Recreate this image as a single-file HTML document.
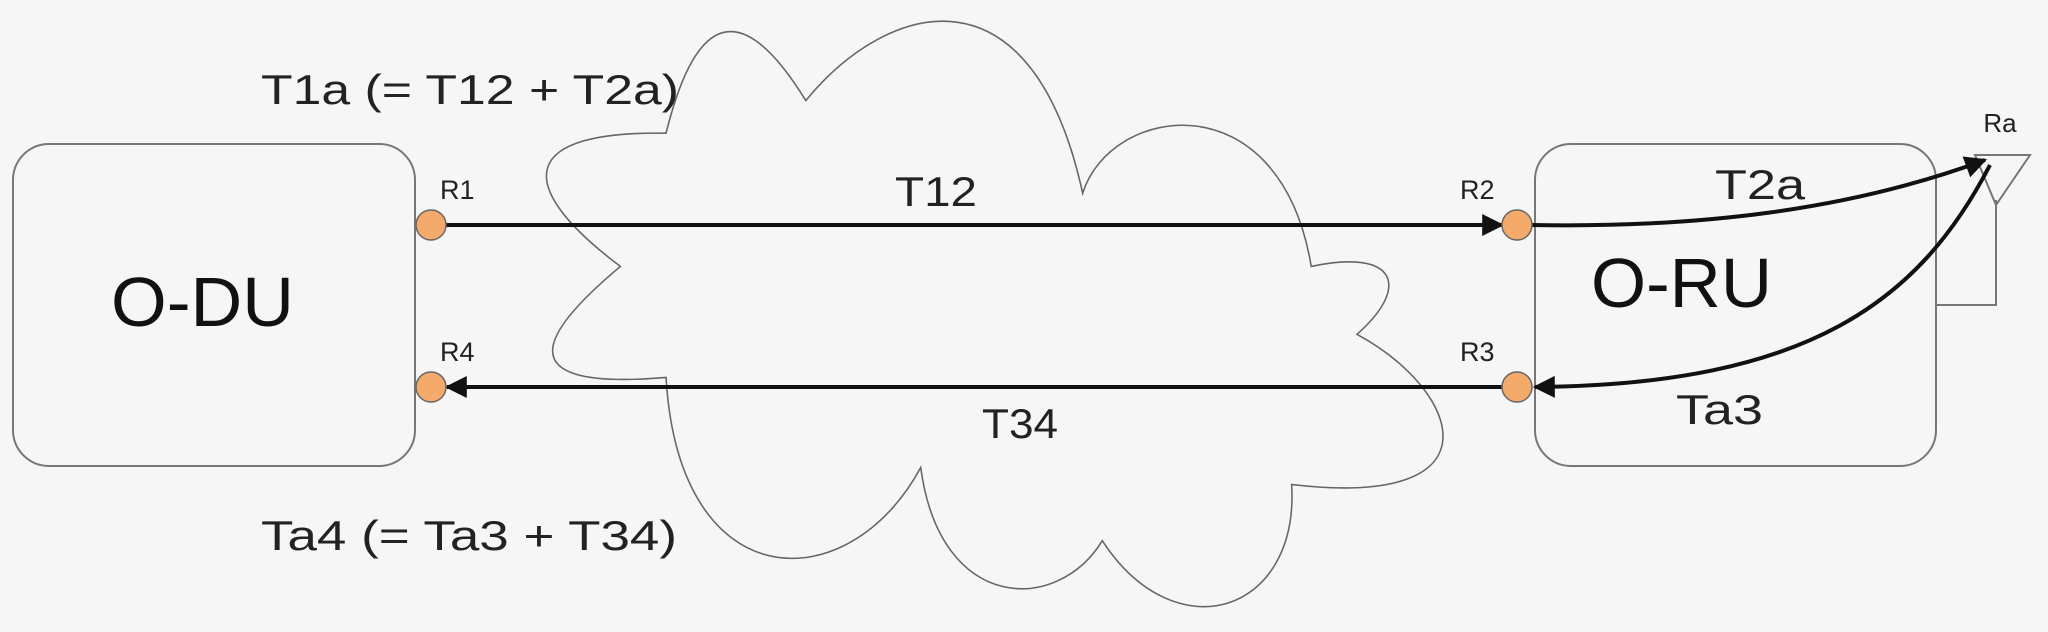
<!DOCTYPE html>
<html><head><meta charset="utf-8"><style>
html,body{margin:0;padding:0;background:#f6f6f6;}
svg{display:block;font-family:"Liberation Sans",Arial,sans-serif;}
</style></head><body>
<svg width="2048" height="632" viewBox="0 0 2048 632">
<defs>
<marker id="ah2" viewBox="0 0 10 10" refX="9" refY="5" markerWidth="30" markerHeight="22" markerUnits="userSpaceOnUse" orient="auto">
<path d="M0,0 L10,5 L0,10 z" fill="#111"/></marker>
</defs>
<rect width="2048" height="632" fill="#f6f6f6"/>
<g transform="scale(1.306)">
<path d="M510,102 Q545,-40 617,77 C680,0 790,-30 829,148 C850,80 980,60 1004,204 C1070,190 1080,220 1039,256 C1120,300 1150,390 989,371 C995,470 900,500 844,414 C810,470 720,470 705,358 C650,460 520,460 510,289 C380,300 420,250 475,204 C390,140 400,100 510,102 Z" fill="none" stroke="#666" stroke-width="1.2"/>
</g>
<rect x="13" y="144" width="402" height="322" rx="36" fill="none" stroke="#777" stroke-width="2"/>
<text x="111" y="326" font-size="70" textLength="183" lengthAdjust="spacingAndGlyphs" fill="#111">O-DU</text>
<rect x="1535" y="144" width="401" height="322" rx="36" fill="none" stroke="#777" stroke-width="2"/>
<text x="1591" y="307" font-size="70" textLength="181" lengthAdjust="spacingAndGlyphs" fill="#111">O-RU</text>
<polyline points="1936,305 1996,305 1996,200" fill="none" stroke="#777" stroke-width="2"/>
<polygon points="1975,155 2030,155 1996,205" fill="none" stroke="#777" stroke-width="2"/>
<text x="2000" y="132" font-size="26" text-anchor="middle" fill="#222">Ra</text>
<line x1="431" y1="225" x2="1502" y2="225" stroke="#111" stroke-width="4" marker-end="url(#ah2)"/>
<line x1="1517" y1="387" x2="447" y2="387" stroke="#111" stroke-width="4" marker-end="url(#ah2)"/>
<path d="M1532,225 C1700,228 1850,210 1985,160" fill="none" stroke="#111" stroke-width="4" marker-end="url(#ah2)"/>
<path d="M1990,165 C1920,300 1810,385 1535,387" fill="none" stroke="#111" stroke-width="4" marker-end="url(#ah2)"/>
<g fill="#f3aa6b" stroke="#666" stroke-width="1.5">
<circle cx="431" cy="225" r="15"/>
<circle cx="431" cy="387" r="15"/>
<circle cx="1517" cy="225" r="15"/>
<circle cx="1517" cy="387" r="15"/>
</g>
<g font-size="27" fill="#222">
<text x="440" y="199">R1</text>
<text x="440" y="361">R4</text>
<text x="1460" y="199">R2</text>
<text x="1460" y="361">R3</text>
</g>
<g font-size="42" fill="#222" lengthAdjust="spacingAndGlyphs">
<text x="261" y="104" textLength="418" lengthAdjust="spacingAndGlyphs">T1a (= T12 + T2a)</text>
<text x="261" y="550" textLength="416" lengthAdjust="spacingAndGlyphs">Ta4 (= Ta3 + T34)</text>
<text x="895" y="206" textLength="82" lengthAdjust="spacingAndGlyphs">T12</text>
<text x="982" y="438" textLength="76" lengthAdjust="spacingAndGlyphs">T34</text>
<text x="1715" y="199" textLength="90" lengthAdjust="spacingAndGlyphs">T2a</text>
<text x="1676" y="424" textLength="87" lengthAdjust="spacingAndGlyphs">Ta3</text>
</g>
</svg>
</body></html>
